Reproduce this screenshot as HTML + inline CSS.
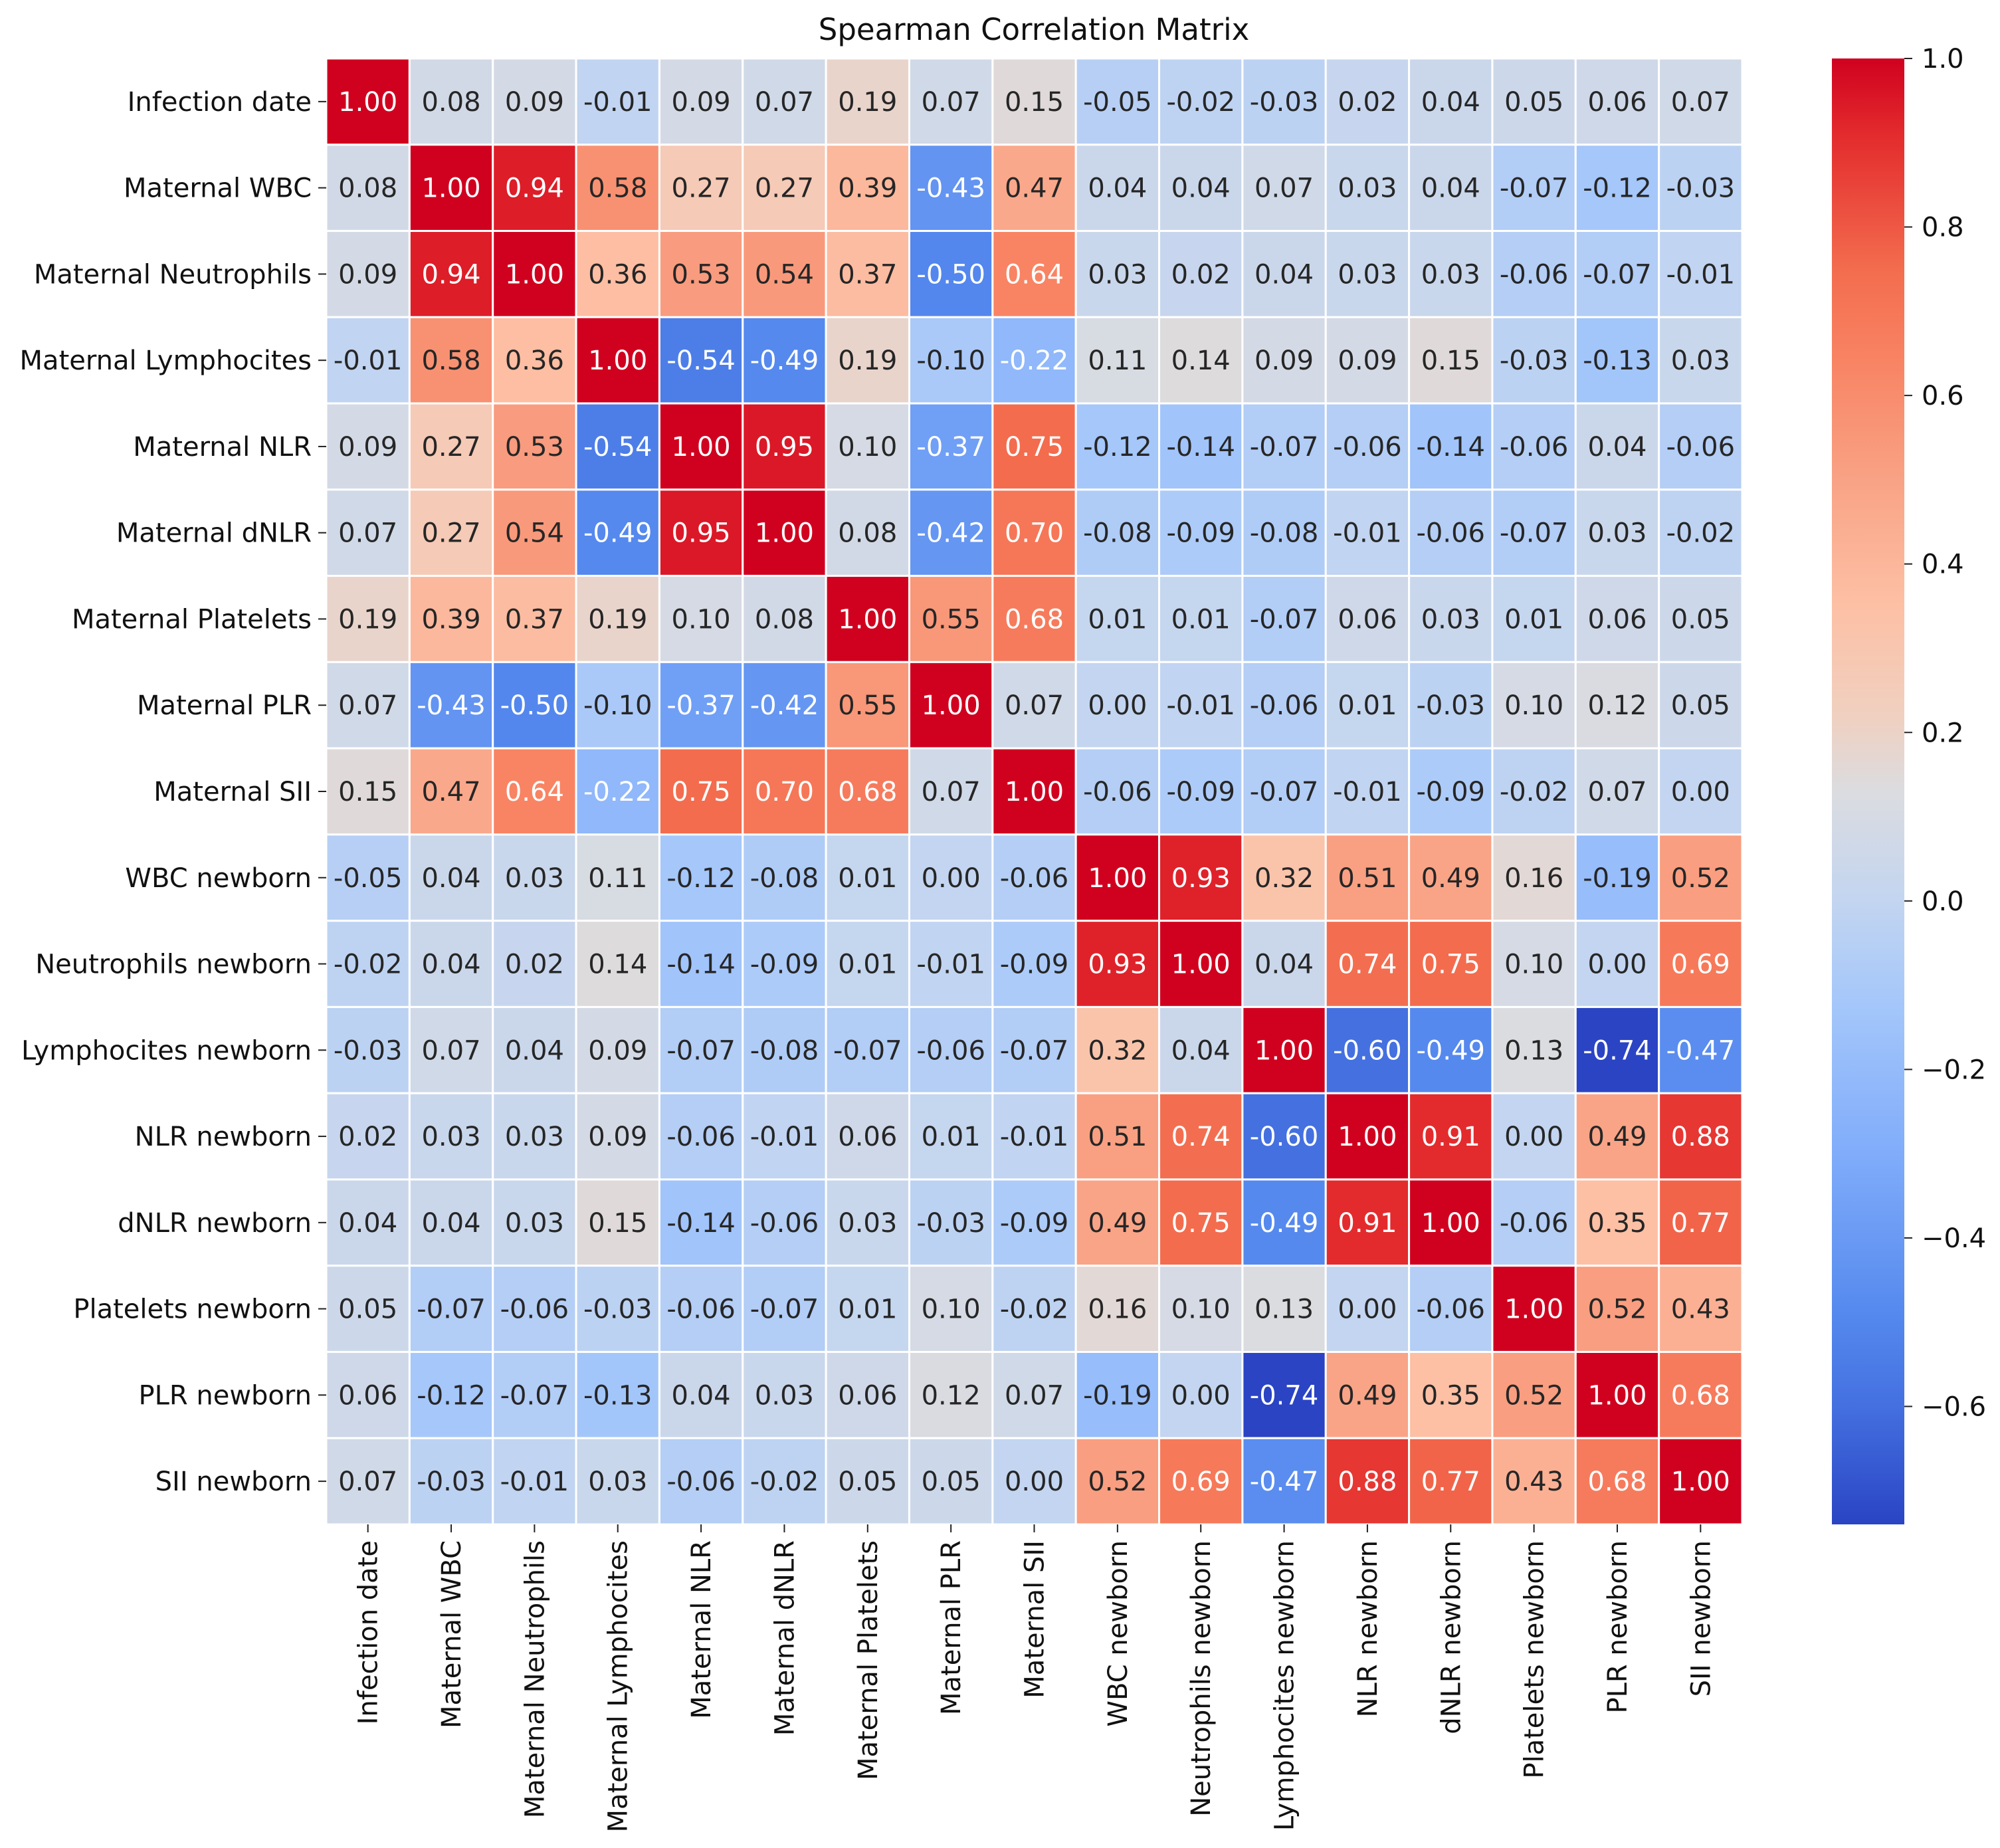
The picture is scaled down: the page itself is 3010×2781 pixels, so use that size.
<!DOCTYPE html>
<html><head><meta charset="utf-8"><style>
html,body{margin:0;padding:0;background:#fff;}
svg{display:block;font-family:"DejaVu Sans","Liberation Sans",sans-serif;}
</style></head><body>
<svg id="chart" width="3010" height="2781" viewBox="0 0 3010 2781" xmlns="http://www.w3.org/2000/svg">
<text x="1556" y="60" font-size="45" text-anchor="middle" fill="#111">Spearman Correlation Matrix</text>
<g id="cells"></g><g id="ylabels"></g><g id="xlabels"></g>
<defs><linearGradient id="cbgrad" x1="0" y1="1" x2="0" y2="0"></linearGradient></defs>
<rect x="2757" y="88" width="109" height="2206" fill="url(#cbgrad)"/>
<g id="cbticks"></g>
</svg>
<script>
const labels=["Infection date","Maternal WBC ","Maternal Neutrophils","Maternal Lymphocites","Maternal NLR","Maternal dNLR","Maternal Platelets","Maternal PLR","Maternal SII","WBC newborn","Neutrophils newborn","Lymphocites newborn","NLR newborn","dNLR newborn","Platelets newborn","PLR newborn","SII newborn"];
const r1=[1.00,0.08,0.09,-0.01,0.09,0.07,0.19,0.07,0.15,-0.05,-0.02,-0.03,0.02,0.04,0.05,0.06,0.07];
const r2=[0.08,1.00,0.94,0.58,0.27,0.27,0.39,-0.43,0.47,0.04,0.04,0.07,0.03,0.04,-0.07,-0.12,-0.03];
const r3=[0.09,0.94,1.00,0.36,0.53,0.54,0.37,-0.50,0.64,0.03,0.02,0.04,0.03,0.03,-0.06,-0.07,-0.01];
const r4=[-0.01,0.58,0.36,1.00,-0.54,-0.49,0.19,-0.10,-0.22,0.11,0.14,0.09,0.09,0.15,-0.03,-0.13,0.03];
const r5=[0.09,0.27,0.53,-0.54,1.00,0.95,0.10,-0.37,0.75,-0.12,-0.14,-0.07,-0.06,-0.14,-0.06,0.04,-0.06];
const r6=[0.07,0.27,0.54,-0.49,0.95,1.00,0.08,-0.42,0.70,-0.08,-0.09,-0.08,-0.01,-0.06,-0.07,0.03,-0.02];
const r7=[0.19,0.39,0.37,0.19,0.10,0.08,1.00,0.55,0.68,0.01,0.01,-0.07,0.06,0.03,0.01,0.06,0.05];
const r8=[0.07,-0.43,-0.50,-0.10,-0.37,-0.42,0.55,1.00,0.07,0.00,-0.01,-0.06,0.01,-0.03,0.10,0.12,0.05];
const r9=[0.15,0.47,0.64,-0.22,0.75,0.70,0.68,0.07,1.00,-0.06,-0.09,-0.07,-0.01,-0.09,-0.02,0.07,0.00];
const r10=[-0.05,0.04,0.03,0.11,-0.12,-0.08,0.01,0.00,-0.06,1.00,0.93,0.32,0.51,0.49,0.16,-0.19,0.52];
const r11=[-0.02,0.04,0.02,0.14,-0.14,-0.09,0.01,-0.01,-0.09,0.93,1.00,0.04,0.74,0.75,0.10,0.00,0.69];
const r12=[-0.03,0.07,0.04,0.09,-0.07,-0.08,-0.07,-0.06,-0.07,0.32,0.04,1.00,-0.60,-0.49,0.13,-0.74,-0.47];
const r13=[0.02,0.03,0.03,0.09,-0.06,-0.01,0.06,0.01,-0.01,0.51,0.74,-0.60,1.00,0.91,0.00,0.49,0.88];
const r14=[0.04,0.04,0.03,0.15,-0.14,-0.06,0.03,-0.03,-0.09,0.49,0.75,-0.49,0.91,1.00,-0.06,0.35,0.77];
const r15=[0.05,-0.07,-0.06,-0.03,-0.06,-0.07,0.01,0.10,-0.02,0.16,0.10,0.13,0.00,-0.06,1.00,0.52,0.43];
const r16=[0.06,-0.12,-0.07,-0.13,0.04,0.03,0.06,0.12,0.07,-0.19,0.00,-0.74,0.49,0.35,0.52,1.00,0.68];
const r17=[0.07,-0.03,-0.01,0.03,-0.06,-0.02,0.05,0.05,0.00,0.52,0.69,-0.47,0.88,0.77,0.43,0.68,1.00];
const matrix=[r1,r2,r3,r4,r5,r6,r7,r8,r9,r10,r11,r12,r13,r14,r15,r16,r17];
const cbTicks=[-0.6,-0.4,-0.2,0.0,0.2,0.4,0.6,0.8,1.0];
const vmin=-0.74, vmax=1.0;

const NS="http://www.w3.org/2000/svg";
const X0=491,X1=2622,Y0=88,Y1=2294,n=labels.length;
const FS=40;
const cw=(X1-X0)/n, ch=(Y1-Y0)/n;
const xPos=i=>X0+i*cw, yPos=i=>Y0+i*ch;
const cmapStops=[[-0.74,[42,68,196]],[-0.6,[68,112,224]],[-0.49,[85,137,238]],[-0.3,[128,172,250]],[-0.12,[165,199,250]],[0.0,[195,213,240]],[0.13,[219,220,224]],[0.22,[240,208,192]],[0.35,[253,192,165]],[0.49,[249,164,135]],[0.64,[248,132,100]],[0.75,[243,108,78]],[0.91,[227,43,45]],[1.0,[208,1,31]]];
function color(v){
  if(v<=cmapStops[0][0])return cmapStops[0][1];
  for(let i=1;i<cmapStops.length;i++){
    const [a,ca]=cmapStops[i-1],[b,cb]=cmapStops[i];
    if(v<=b){const t=(v-a)/(b-a);return ca.map((c,k)=>Math.round(c+(cb[k]-c)*t));}
  }
  return cmapStops[cmapStops.length-1][1];
}
const rgb=c=>`rgb(${c[0]},${c[1]},${c[2]})`;
function mk(tag,attrs,parent,text){const e=document.createElementNS(NS,tag);for(const k in attrs)e.setAttribute(k,attrs[k]);if(text!==undefined)e.textContent=text;parent.appendChild(e);return e;}

const gc=document.getElementById('cells');
matrix.forEach((row,i)=>row.forEach((v,j)=>{
  const r=mk('rect',{x:xPos(j),y:yPos(i),width:cw,height:ch,fill:rgb(color(v)),stroke:'#fff','stroke-width':3},gc);
  
  
  const white=(v>=0.6||v<=-0.2);
  const t=mk('text',{x:xPos(j)+cw/2,y:yPos(i)+ch/2+14,'font-size':FS,'text-anchor':'middle',fill:white?'#fff':'#262626'},gc,v.toFixed(2));
  
  
}));
const gy=document.getElementById('ylabels');
labels.forEach((l,i)=>{
  const y=yPos(i)+ch/2;
  mk('line',{x1:X0-12,x2:X0,y1:y,y2:y,stroke:'#222','stroke-width':2},gy);
  const t=mk('text',{x:X0-22,y:y+14,'font-size':FS,'text-anchor':'end',fill:'#111','xml:space':'preserve'},gy,l);
  
  
});
const gx=document.getElementById('xlabels');
labels.forEach((l,j)=>{
  const x=xPos(j)+cw/2;
  mk('line',{x1:x,x2:x,y1:Y1,y2:Y1+12,stroke:'#222','stroke-width':2},gx);
  const t=mk('text',{x:0,y:0,'font-size':FS,'text-anchor':'end',fill:'#111',transform:`translate(${x+14},${Y1+24}) rotate(-90)`},gx,l.trim());
  
  
});
const grad=document.getElementById('cbgrad');
cmapStops.forEach(([v,c])=>mk('stop',{offset:((v-vmin)/(vmax-vmin)).toFixed(4),'stop-color':rgb(c)},grad));
const cbY=v=>Y1-(v-vmin)/(vmax-vmin)*(Y1-Y0);
const gt=document.getElementById('cbticks');
cbTicks.forEach(v=>{
  const y=cbY(v);
  mk('line',{x1:2866,x2:2878,y1:y,y2:y,stroke:'#222','stroke-width':2},gt);
  const t=mk('text',{x:2892,y:y+14,'font-size':FS,fill:'#111'},gt,(v<0?'\u2212':'')+Math.abs(v).toFixed(1));
  
  
});
</script>
</body></html>
